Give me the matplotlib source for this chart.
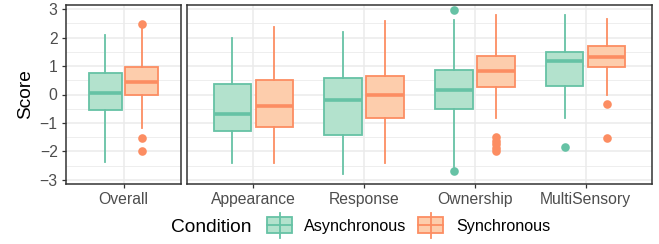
import numpy as np
import matplotlib.pyplot as plt
from matplotlib.patches import Rectangle

plt.rcParams['font.family'] = ['Liberation Sans', 'DejaVu Sans']

### values (Overall first, then the four measures)
groups = ['Overall', 'Appearance', 'Response', 'Ownership', 'MultiSensory']
conditions = ['Asynchronous', 'Synchronous']

async_whislo = [-2.37, -2.40, -2.81, -2.55, -0.84]
async_q1 = [-0.56, -1.27, -1.43, -0.51, 0.30]
async_med = [0.07, -0.70, -0.21, 0.16, 1.17]
async_q3 = [0.74, 0.37, 0.58, 0.87, 1.49]
async_whishi = [2.10, 1.99, 2.19, 2.63, 2.81]
async_fliers = [[], [], [], [2.99, -2.69], [-1.85]]

sync_whislo = [-1.19, -2.40, -2.42, -0.84, -0.01]
sync_q1 = [0.00, -1.15, -0.82, 0.27, 0.98]
sync_med = [0.43, -0.39, -0.01, 0.83, 1.32]
sync_q3 = [0.98, 0.50, 0.64, 1.37, 1.71]
sync_whishi = [2.45, 2.36, 2.58, 2.81, 2.64]
sync_fliers = [[2.48, -1.52, -1.99], [], [], [-1.50, -1.62, -1.75, -1.87, -2.00], [-0.35, -1.52]]

edge = {'Asynchronous': '#66c2a5', 'Synchronous': '#fc8d62'}
fill = {'Asynchronous': '#b3e2cd', 'Synchronous': '#fdcdac'}
stats_src = {
    'Asynchronous': (async_whislo, async_q1, async_med, async_q3, async_whishi, async_fliers),
    'Synchronous': (sync_whislo, sync_q1, sync_med, sync_q3, sync_whishi, sync_fliers),
}

W, H = 659, 244
fig = plt.figure(figsize=(W / 100, H / 100), dpi=100)
ax1 = fig.add_axes([66 / W, 1 - 184 / H, 115 / W, 179 / H])
ax2 = fig.add_axes([187 / W, 1 - 184 / H, 465 / W, 179 / H])

dodge = 0.19
bw = 0.34


def draw(ax, idx_list):
    for k, cond in enumerate(conditions):
        lo, q1, med, q3, hi, fl = stats_src[cond]
        st = []
        for i in idx_list:
            st.append(dict(whislo=lo[i], q1=q1[i], med=med[i], q3=q3[i], whishi=hi[i], fliers=fl[i]))
        pos = [j + 1 + (-dodge if k == 0 else dodge) for j in range(len(idx_list))]
        ax.bxp(st, positions=pos, widths=bw, patch_artist=True, showcaps=False,
               boxprops=dict(facecolor=fill[cond], edgecolor=edge[cond], linewidth=1.3),
               medianprops=dict(color=edge[cond], linewidth=2.6, solid_capstyle='butt'),
               whiskerprops=dict(color=edge[cond], linewidth=1.3),
               flierprops=dict(marker='o', markerfacecolor=edge[cond], markeredgecolor='none', markersize=6.2),
               manage_ticks=False, zorder=3)


draw(ax1, [0])
draw(ax2, [1, 2, 3, 4])

for ax, labs in [(ax1, groups[:1]), (ax2, groups[1:])]:
    ax.set_xlim(0.4, len(labs) + 0.6)
    ax.set_ylim(-3.15, 3.15)
    ax.set_xticks(np.arange(1, len(labs) + 1))
    ax.set_xticklabels(labs)
    ax.set_yticks(np.arange(-3, 4))
    ax.set_yticks(np.arange(-2.5, 3, 1.0), minor=True)
    ax.grid(True, which='major', color='#ebebeb', linewidth=1.1)
    ax.grid(True, which='minor', axis='y', color='#ebebeb', linewidth=0.6)
    ax.set_axisbelow(True)
    for s in ax.spines.values():
        s.set_color('#333333')
        s.set_linewidth(1.1)
    ax.tick_params(which='major', length=3, width=0.9, color='#333333', labelcolor='#4d4d4d',
                   labelsize=11.3, pad=3)
    ax.tick_params(which='minor', length=0)

ax1.set_yticklabels(['\u22123', '\u22122', '\u22121', '0', '1', '2', '3'])
ax2.tick_params(axis='y', which='both', left=False, labelleft=False)
ax1.set_ylabel('Score', fontsize=13.8, color='black', labelpad=4)

### legend at the bottom
lg = fig.add_axes([0, 0, 1, 1])
lg.set_xlim(0, W)
lg.set_ylim(H, 0)
lg.axis('off')
lg.text(171, 227, 'Condition', fontsize=13.8, va='center', ha='left')
for cond, x0, tx in [('Asynchronous', 267, 304), ('Synchronous', 418, 456)]:
    cx = x0 + 12.5
    lg.plot([cx, cx], [213, 238], color=edge[cond], lw=1.3)
    lg.add_patch(Rectangle((x0, 217), 25, 16, facecolor=fill[cond], edgecolor=edge[cond], lw=1.3))
    lg.plot([x0, x0 + 25], [225, 225], color=edge[cond], lw=1.3)
    lg.text(tx, 226, cond, fontsize=11.6, va='center', ha='left')

fig.savefig('out.png', dpi=100)
